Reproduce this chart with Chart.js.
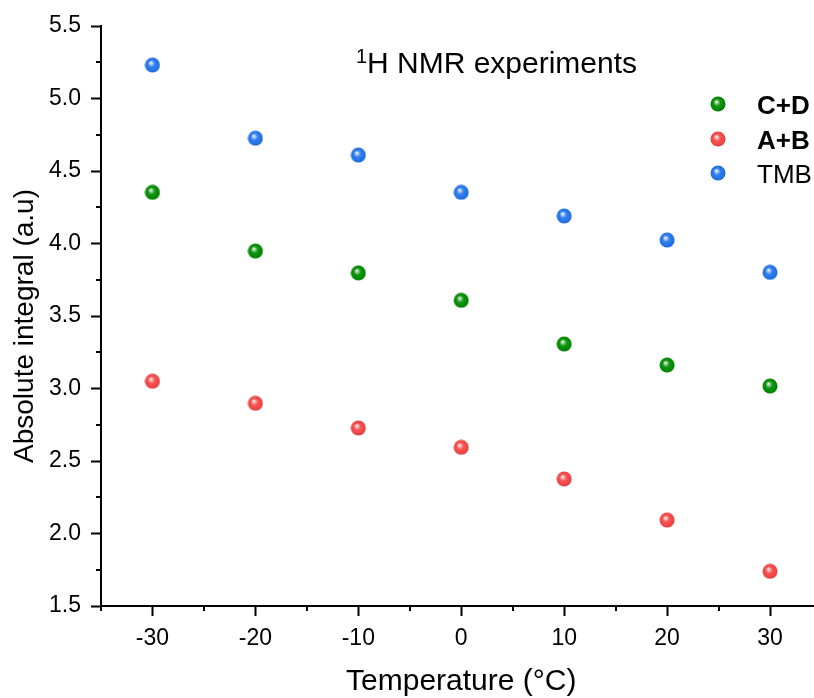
<!DOCTYPE html>
<html>
<head>
<meta charset="utf-8">
<script src="https://cdn.jsdelivr.net/npm/chart.js@4.4.1/dist/chart.umd.min.js"></script>
<style>
    html, body { margin: 0; padding: 0; background: #fff; overflow: hidden; }
    #chart { display: block; }
</style>
</head>
<body>
<canvas id="chart" width="830" height="698"></canvas>
<script>
const temps = [-30, -20, -10, 0, 10, 20, 30];
const cdValues = [4.353, 3.948, 3.797, 3.608, 3.307, 3.162, 3.017];
const abValues = [3.050, 2.898, 2.728, 2.594, 2.376, 2.093, 1.739];
const tmbValues = [5.231, 4.726, 4.610, 4.353, 4.190, 4.024, 3.801];
const seriesNames = ['C+D', 'A+B', 'TMB'];
const seriesBold = [true, true, false];
const seriesColors = ['#008c00', '#f54545', '#2274ea'];

const xTicks = [-30, -20, -10, 0, 10, 20, 30];
const xMinorTicks = [-35, -25, -15, -5, 5, 15, 25, 35];
const yTicks = [1.5, 2.0, 2.5, 3.0, 3.5, 4.0, 4.5, 5.0, 5.5];
const yMinorTicks = [1.75, 2.25, 2.75, 3.25, 3.75, 4.25, 4.75, 5.25];

const FONT = '"Liberation Sans", Arial, sans-serif';

// shaded ball marker, like the origin sphere symbol
function makeSphere(color) {
    const c = document.createElement('canvas');
    c.width = 16; c.height = 16;
    const g = c.getContext('2d');
    const grad = g.createRadialGradient(6.2, 5.6, 0, 8, 8, 7.6);
    grad.addColorStop(0, '#ffffff');
    grad.addColorStop(0.2, shade(color, 0.6));
    grad.addColorStop(0.45, shade(color, 0.08));
    grad.addColorStop(0.8, color);
    grad.addColorStop(1, shade(color, -0.15));
    g.fillStyle = grad;
    g.beginPath();
    g.arc(8, 8, 7.5, 0, Math.PI * 2);
    g.fill();
    return c;
}

function shade(hex, amt) {
    const n = parseInt(hex.slice(1), 16);
    let r = n >> 16, gg = (n >> 8) & 255, b = n & 255;
    const f = v => amt >= 0 ? Math.round(v + (255 - v) * amt) : Math.round(v * (1 + amt));
    return `rgb(${f(r)},${f(gg)},${f(b)})`;
}

const spheres = seriesColors.map(makeSphere);
const toPoints = vals => temps.map((t, i) => ({ x: t, y: vals[i] }));

const minorTicks = {
    id: 'minorTicks',
    afterDraw(chart) {
        const { ctx, chartArea, scales } = chart;
        ctx.save();
        ctx.strokeStyle = '#000';
        ctx.lineWidth = 2;
        ctx.beginPath();
        xMinorTicks.forEach(v => {
            const px = Math.round(scales.x.getPixelForValue(v));
            ctx.moveTo(px, chartArea.bottom);
            ctx.lineTo(px, chartArea.bottom + 5);
        });
        yMinorTicks.forEach(v => {
            const py = Math.round(scales.y.getPixelForValue(v));
            ctx.moveTo(chartArea.left, py);
            ctx.lineTo(chartArea.left - 5, py);
        });
        ctx.stroke();
        ctx.restore();
    }
};

const titleAndLegend = {
    id: 'titleAndLegend',
    afterDraw(chart) {
        const { ctx, chartArea } = chart;
        ctx.save();
        ctx.fillStyle = '#000';
        ctx.textAlign = 'left';
        ctx.textBaseline = 'alphabetic';
        ctx.font = `20px ${FONT}`;
        ctx.fillText('1', 356, 63);
        ctx.font = `30px ${FONT}`;
        ctx.fillText('H NMR experiments', 367, 73);

        // y axis title, sits a little below the plot centre in the original
        ctx.save();
        ctx.translate(33, (chartArea.top + chartArea.bottom) / 2 + 10);
        ctx.rotate(-Math.PI / 2);
        ctx.textAlign = 'center';
        ctx.font = `28px ${FONT}`;
        ctx.fillText('Absolute integral (a.u)', 0, 0);
        ctx.restore();

        const rows = [104, 139, 173];
        seriesNames.forEach((name, i) => {
            ctx.drawImage(spheres[i], 718 - 8, rows[i] - 8);
            ctx.font = `${seriesBold[i] ? 'bold ' : ''}26px ${FONT}`;
            ctx.fillText(name, 757, rows[i] + 10);
        });
        ctx.restore();
    }
};

new Chart(document.getElementById('chart').getContext('2d'), {
    type: 'scatter',
    data: {
        datasets: [
            { label: seriesNames[0], data: toPoints(cdValues), pointStyle: spheres[0] },
            { label: seriesNames[1], data: toPoints(abValues), pointStyle: spheres[1] },
            { label: seriesNames[2], data: toPoints(tmbValues), pointStyle: spheres[2] }
        ]
    },
    options: {
        responsive: false,
        animation: false,
        events: [],
        layout: { padding: { top: 26, right: 8.5, left: 0, bottom: 0 } },
        plugins: { legend: { display: false }, tooltip: { enabled: false } },
        scales: {
            x: {
                type: 'linear',
                min: -35, max: 35,
                afterBuildTicks: s => { s.ticks = xTicks.map(v => ({ value: v })); },
                afterFit: s => { s.height = 92; },
                border: { display: true, color: '#000', width: 2 },
                grid: { drawOnChartArea: false, drawTicks: true, tickLength: 10, tickColor: '#000', tickWidth: 2 },
                ticks: { color: '#000', padding: 9, font: { family: FONT, size: 23 }, callback: v => String(v), maxRotation: 0 },
                title: { display: true, text: 'Temperature (°C)', color: '#000', font: { family: FONT, size: 30 }, padding: { top: 0, bottom: -2 } }
            },
            y: {
                type: 'linear',
                min: 1.5, max: 5.5,
                afterBuildTicks: s => { s.ticks = yTicks.map(v => ({ value: v })); },
                afterFit: s => { s.width = 101; },
                border: { display: true, color: '#000', width: 2 },
                grid: { drawOnChartArea: false, drawTicks: true, tickLength: 10, tickColor: '#000', tickWidth: 2 },
                ticks: { color: '#000', padding: 10, font: { family: FONT, size: 23 }, callback: v => v.toFixed(1) },
                title: { display: false }
            }
        }
    },
    plugins: [minorTicks, titleAndLegend]
});
</script>
</body>
</html>
